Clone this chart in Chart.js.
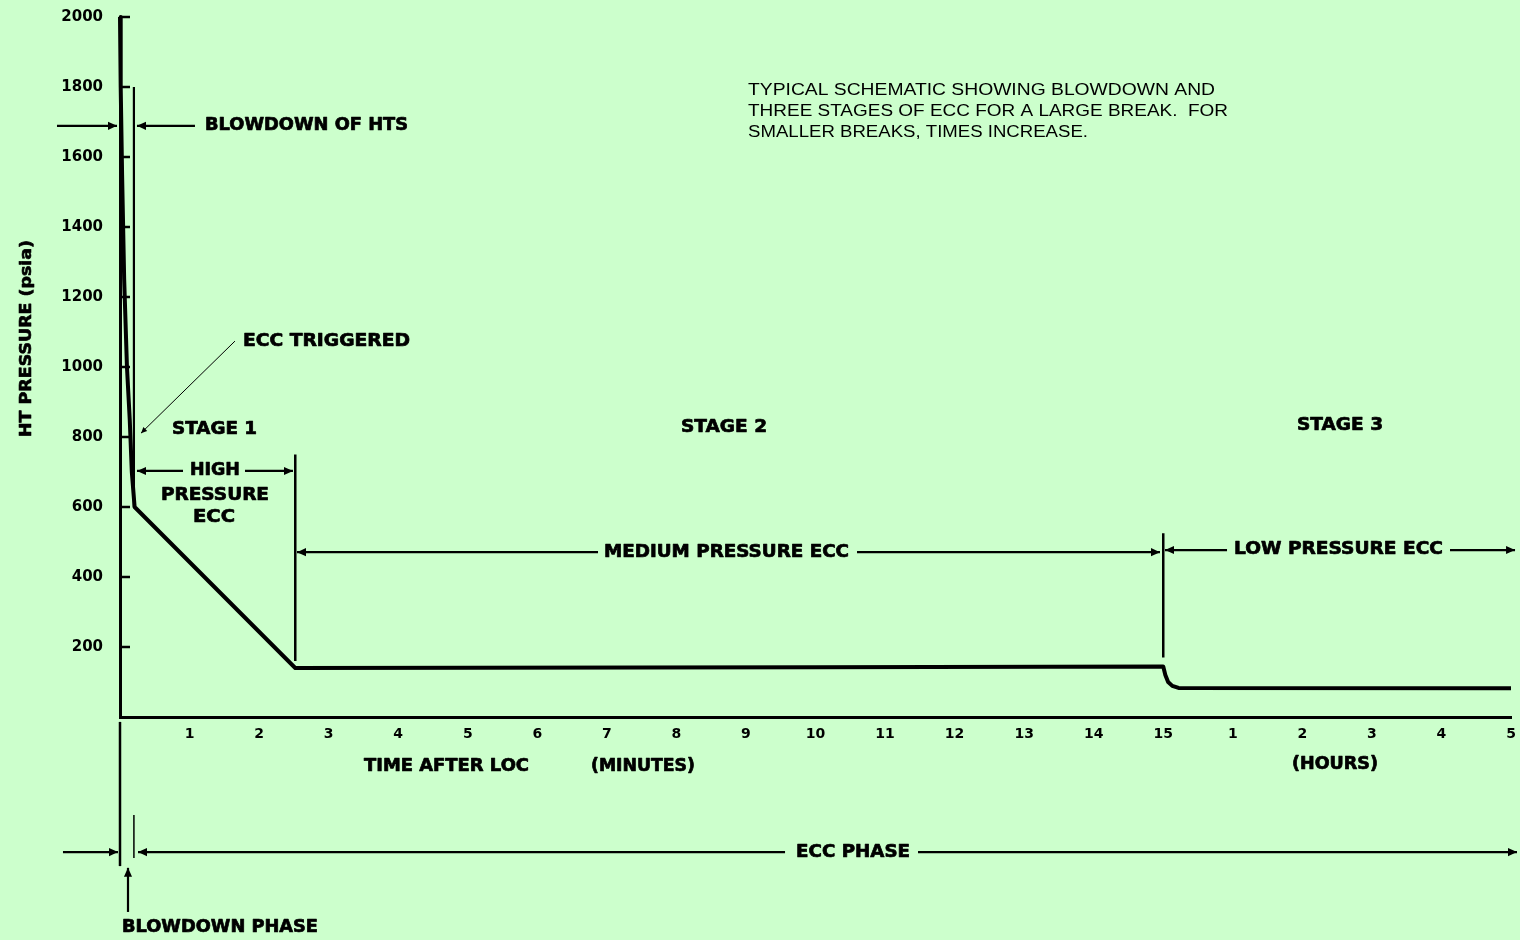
<!DOCTYPE html>
<html><head><meta charset="utf-8">
<script src="https://cdn.jsdelivr.net/npm/chart.js@4.4.1/dist/chart.umd.min.js"></script>
<style>html,body{margin:0;padding:0;background:#ccffcc;}canvas{display:block;}</style>
</head><body>
<canvas id="c" width="1520" height="940"></canvas>
<script>
// ---- data (x in minutes after LOC; 16..20 represent 1..5 hours) ----
const timeMinutes  = [0, 0.01, 0.03, 0.06, 0.10, 0.14, 0.17, 0.21, 2.52, 10, 15.0, 15.03, 15.07, 15.13, 15.22, 20];
const pressurePsia = [2000, 1800, 1550, 1250, 1000, 850, 700, 600, 140, 142, 144, 120, 100, 89, 83, 82];
const xTickLabels  = ['', '1','2','3','4','5','6','7','8','9','10','11','12','13','14','15','1','2','3','4','5'];
const yTickValues  = [200, 400, 600, 800, 1000, 1200, 1400, 1600, 1800, 2000];
// phase boundary markers
const blowdownEndX = [0.2, 0.2];   const blowdownEndY = [1800, 600];
const stage1EndX   = [2.52, 2.52]; const stage1EndY   = [750, 160];
const stage2EndX   = [15, 15];     const stage2EndY   = [525, 170];

const BOLD = 'bold', FAM = '"DejaVu Sans", sans-serif';
// labels: x0..x1 (data span), y (data)
const labels = [
  {t:'BLOWDOWN OF HTS', x0:1.222, x1:4.141, y:1689, s:17},
  {t:'ECC TRIGGERED',   x0:1.768, x1:4.170, y:1074, s:17},
  {t:'STAGE 1',         x0:0.748, x1:1.970, y:820,  s:17},
  {t:'STAGE 2',         x0:8.066, x1:9.303, y:826,  s:17},
  {t:'STAGE 3',         x0:16.923,x1:18.160,y:834,  s:17},
  {t:'HIGH',            x0:1.006, x1:1.725, y:703,  s:17},
  {t:'PRESSURE',        x0:0.589, x1:2.142, y:634,  s:17},
  {t:'ECC',             x0:1.050, x1:1.653, y:569,  s:17},
  {t:'MEDIUM PRESSURE ECC', x0:6.959, x1:10.482, y:471, s:17},
  {t:'LOW PRESSURE ECC',    x0:16.017,x1:19.022, y:477, s:17},
  {t:'ECC PHASE',       x0:9.720, x1:11.359, y:-386, s:17},
  {t:'BLOWDOWN PHASE',  x0:0.029, x1:2.847, y:-603, s:17},
  {t:'TIME AFTER LOC',  x0:3.508, x1:5.881, y:-143, s:17},
  {t:'(MINUTES)',       x0:6.772, x1:8.267, y:-143, s:17},
  {t:'(HOURS)',         x0:16.851,x1:18.088,y:-137, s:17},
  {t:'TYPICAL SCHEMATIC SHOWING BLOWDOWN AND',      x0:9.030, x1:15.744, y:1791, s:16, w:'normal', f:'"Liberation Sans", Arial, sans-serif'},
  {t:'THREE STAGES OF ECC FOR A LARGE BREAK.  FOR', x0:9.030, x1:15.931, y:1729, s:16, w:'normal', f:'"Liberation Sans", Arial, sans-serif'},
  {t:'SMALLER BREAKS, TIMES INCREASE.',             x0:9.030, x1:13.918, y:1669, s:16, w:'normal', f:'"Liberation Sans", Arial, sans-serif'}
];
// arrows: from (x0,y0) to (x1,y1), head at end if h
const arrows = [
  {x0:-0.906, y0:1689, x1:-0.043, y1:1689, h:1},
  {x0:1.078,  y0:1689, x1:0.244,  y1:1689, h:1},
  {x0:0.906,  y0:703,  x1:0.244,  y1:703,  h:1},
  {x0:1.797,  y0:703,  x1:2.487,  y1:703,  h:1},
  {x0:6.873,  y0:471,  x1:2.545,  y1:471,  h:1},
  {x0:10.597, y0:471,  x1:14.953, y1:471,  h:1},
  {x0:15.917, y0:477,  x1:15.025, y1:477,  h:1},
  {x0:19.123, y0:477,  x1:20.058, y1:477,  h:1},
  {x0:-0.820, y0:-386, x1:-0.029, y1:-386, h:1},
  {x0:9.562,  y0:-386, x1:0.259,  y1:-386, h:1},
  {x0:11.474, y0:-386, x1:20.086, y1:-386, h:1},
  {x0:0.115,  y0:-557, x1:0.115,  y1:-431, h:1},
  {x0:0,      y0:-14,  x1:0,      y1:-426, h:0, lw:2.5},
  {x0:0.2,    y0:-280, x1:0.2,    y1:-403, h:0, lw:1.5},
  {x0:1.653,  y0:1074, x1:0.302,  y1:811,  h:1, lw:1, hs:6}
];

const annot = {
  id:'annot',
  beforeDraw(chart){
    const c = chart.ctx; c.save(); c.fillStyle = '#ccffcc'; c.fillRect(0,0,chart.width,chart.height); c.restore();
  },
  afterDraw(chart){
    const c = chart.ctx, xs = chart.scales.x, ys = chart.scales.y;
    const X = v => xs.getPixelForValue(v), Y = v => ys.getPixelForValue(v);
    c.save();
    c.strokeStyle = '#000'; c.fillStyle = '#000';
    // inward y ticks
    c.lineWidth = 2.5;
    yTickValues.forEach(v => { c.beginPath(); c.moveTo(xs.left, Y(v)); c.lineTo(xs.left + 10, Y(v)); c.stroke(); });
    // arrows
    arrows.forEach(a => {
      const x0 = X(a.x0), y0 = Y(a.y0), x1 = X(a.x1), y1 = Y(a.y1);
      c.lineWidth = a.lw || 2.2;
      c.beginPath(); c.moveTo(x0, y0); c.lineTo(x1, y1); c.stroke();
      if (a.h) {
        const ang = Math.atan2(y1 - y0, x1 - x0), L = a.hs || 9, W = (a.hs || 9) * 0.45;
        c.beginPath();
        c.moveTo(x1, y1);
        c.lineTo(x1 - L*Math.cos(ang) + W*Math.sin(ang), y1 - L*Math.sin(ang) - W*Math.cos(ang));
        c.lineTo(x1 - L*Math.cos(ang) - W*Math.sin(ang), y1 - L*Math.sin(ang) + W*Math.cos(ang));
        c.closePath(); c.fill();
      }
    });
    // labels fitted to their span
    c.textBaseline = 'middle'; c.textAlign = 'left'; c.lineJoin = 'round';
    labels.forEach(l => {
      c.font = `${l.w || BOLD} ${l.s}px ${l.f || FAM}`;
      const m = c.measureText(l.t).width, x0 = X(l.x0), w = X(l.x1) - x0;
      c.save(); c.translate(x0, Y(l.y)); c.scale(w / m, 1); c.fillText(l.t, 0, 0);
      if (!l.w) { c.lineWidth = 0.7; c.strokeText(l.t, 0, 0); }
      c.restore();
    });
    // y title (rotated)
    const yt = 'HT PRESSURE (psia)';
    c.font = `bold 15px ${FAM}`;
    const m = c.measureText(yt).width, len = Y(800) - Y(1363);
    c.save(); c.translate(X(-1.337), (Y(800) + Y(1363)) / 2); c.rotate(-Math.PI/2);
    c.scale(len / m, 1); c.textAlign = 'center'; c.fillText(yt, 0, 0);
    c.lineWidth = 0.6; c.strokeText(yt, 0, 0); c.restore();
    c.restore();
  }
};

new Chart(document.getElementById('c'), {
  type: 'line',
  data: {
    datasets: [
      {data: timeMinutes.map((t,i)=>({x:t, y:pressurePsia[i]})), borderColor:'#000', borderWidth:4, pointRadius:0, borderJoinStyle:'round', clip:false},
      {data: blowdownEndX.map((t,i)=>({x:t, y:blowdownEndY[i]})), borderColor:'#000', borderWidth:2.2, pointRadius:0},
      {data: stage1EndX.map((t,i)=>({x:t, y:stage1EndY[i]})), borderColor:'#000', borderWidth:2.5, pointRadius:0},
      {data: stage2EndX.map((t,i)=>({x:t, y:stage2EndY[i]})), borderColor:'#000', borderWidth:2.5, pointRadius:0}
    ]
  },
  options: {
    responsive:false, animation:false, devicePixelRatio:1,
    layout:{padding:{left:0, right:9, top:17, bottom:0}},
    plugins:{legend:{display:false}, tooltip:{enabled:false}},
    scales:{
      x:{type:'linear', min:0, max:20,
        afterFit: s => { s.height = 223; s.paddingLeft = 0; s.paddingRight = 0; },
        grid:{display:true, drawOnChartArea:false, drawTicks:false},
        border:{display:true, color:'#000', width:3},
        ticks:{stepSize:1, autoSkip:false, maxRotation:0, padding:9, color:'#000',
          font:{family:'DejaVu Sans', weight:'bold', size:14},
          callback: v => xTickLabels[Math.round(v)] ?? ''}},
      y:{type:'linear', min:0, max:2000,
        afterFit: s => { s.width = 120; s.paddingTop = 0; s.paddingBottom = 0; },
        grid:{display:true, drawOnChartArea:false, drawTicks:false},
        border:{display:true, color:'#000', width:3},
        ticks:{stepSize:200, padding:17, color:'#000',
          font:{family:'DejaVu Sans', weight:'bold', size:15},
          callback: v => v === 0 ? '' : String(v)}}
    }
  },
  plugins:[annot]
});
</script>
</body></html>
